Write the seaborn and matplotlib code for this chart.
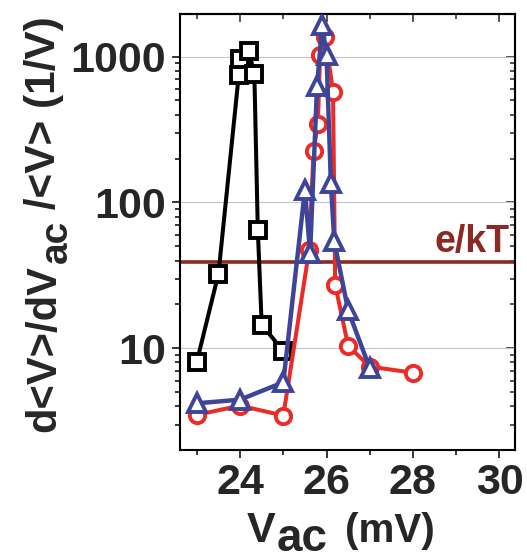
import matplotlib
matplotlib.use("Agg")
import matplotlib.pyplot as plt
import matplotlib.ticker as mticker
import seaborn as sns
import numpy as np

# ---- data ----
black_x = [23.0, 23.5, 23.97, 24.0, 24.2, 24.33, 24.41, 24.5, 25.0]
black_y = [8.1, 32.5, 750, 960, 1100, 760, 65, 14.5, 9.6]

red_x = [23.0, 24.0, 25.0, 25.6, 25.7, 25.8, 25.85, 25.97, 26.15, 26.2, 26.5, 27.0, 28.0]
red_y = [3.5, 4.05, 3.46, 47.5, 227, 346, 1020, 1370, 575, 27.3, 10.4, 7.5, 6.8]

blue_x = [23.0, 24.0, 25.0, 25.5, 25.62, 25.78, 25.9, 26.0, 26.1, 26.18, 26.5, 27.0]
blue_y = [4.2, 4.45, 5.85, 122, 45, 624, 1650, 1020, 136, 54, 18.2, 7.3]

e_kT = 39.0
e_kT_label = "e/kT"

x_ticks = [24, 26, 28, 30]
x_minor = [23, 25, 27, 29]
y_ticks = [10, 100, 1000]

# ---- style ----
sns.set_style("ticks")
plt.rcParams["font.family"] = ["Liberation Sans", "DejaVu Sans"]
plt.rcParams["font.weight"] = "bold"

C_BLACK = "#000000"
C_RED = "#ec2b27"
C_BLUE = "#3e4599"
C_LINE = "#8b2a22"

W, H = 527, 560
fig = plt.figure(figsize=(W / 100, H / 100), dpi=100)
L, R, T, B = 180, 515, 14, 450
ax = fig.add_axes([L / W, 1 - B / H, (R - L) / W, (B - T) / H])

ax.set_yscale("log")
ax.set_xlim(22.61, 30.36)
ax.set_ylim(2.01, 1958)

ax.axhline(e_kT, color=C_LINE, lw=2.6, zorder=1.5)

common = dict(linewidth=2.9, markersize=11, markeredgewidth=2.8,
              markerfacecolor="white", sort=False, estimator=None, legend=False)
sns.lineplot(x=black_x, y=black_y, ax=ax, color=C_BLACK, marker="s",
             markeredgecolor=C_BLACK, zorder=3, **common)
sns.lineplot(x=red_x, y=red_y, ax=ax, color=C_RED, marker="o",
             markeredgecolor=C_RED, zorder=4, **common)
common_b = dict(common)
common_b["markersize"] = 13
common_b["linewidth"] = 3.2
sns.lineplot(x=blue_x, y=blue_y, ax=ax, color=C_BLUE, marker="^",
             markeredgecolor=C_BLUE, zorder=5, **common_b)

ax.annotate(e_kT_label, xy=(0.985, e_kT), xycoords=("axes fraction", "data"),
            xytext=(0, 7), textcoords="offset points", ha="right", va="baseline",
            color=C_LINE, fontsize=27, fontweight="bold")

# grid
ax.yaxis.grid(True, which="major", color="#c4c4c4", linewidth=0.8)
ax.xaxis.grid(False)
ax.set_axisbelow(True)

for s in ax.spines.values():
    s.set_visible(True)
    s.set_linewidth(1.5)
    s.set_color("black")

# ticks
ax.set_xticks(x_ticks)
ax.set_xticks(x_minor, minor=True)
ax.xaxis.set_major_formatter(mticker.FuncFormatter(lambda v, p: f"{v:g}"))
ax.yaxis.set_major_locator(mticker.FixedLocator(y_ticks))
ax.yaxis.set_minor_locator(mticker.LogLocator(base=10, subs=np.arange(2, 10), numticks=20))
ax.yaxis.set_major_formatter(mticker.FuncFormatter(lambda v, p: f"{v:g}"))
ax.yaxis.set_minor_formatter(mticker.NullFormatter())

ax.tick_params(axis="both", which="major", direction="out", length=6, width=1.1,
               labelsize=31, pad=3, color="black")
ax.tick_params(axis="both", which="minor", direction="out", length=3.5, width=1.1,
               color="black")
ax.tick_params(axis="y", which="major", pad=4)
for lab in ax.get_xticklabels() + ax.get_yticklabels():
    lab.set_fontweight("bold")

# inward ticks on top and right
secx = ax.secondary_xaxis("top")
secx.set_xticks(x_ticks)
secx.set_xticks(x_minor, minor=True)
secx.tick_params(which="major", direction="in", length=5.5, width=1.1, labeltop=False)
secx.tick_params(which="minor", direction="in", length=3.5, width=1.1)
secx.spines["top"].set_linewidth(1.5)

secy = ax.secondary_yaxis("right")
secy.yaxis.set_major_locator(mticker.FixedLocator(y_ticks))
secy.yaxis.set_minor_locator(mticker.LogLocator(base=10, subs=np.arange(2, 10), numticks=20))
secy.yaxis.set_minor_formatter(mticker.NullFormatter())
secy.tick_params(which="major", direction="in", length=6.5, width=1.1, labelright=False)
secy.tick_params(which="minor", direction="in", length=3.5, width=1.1)
secy.spines["right"].set_linewidth(1.5)

# axis labels (with large subscript pieces as in the reference)
def fx(px):
    return px / W

def fy(py):
    return 1 - py / H

fig.text(fx(247), fy(541.7), "V", fontsize=31, fontweight="bold", ha="left", va="baseline")
fig.text(fx(277), fy(551), "ac", fontsize=33, fontweight="bold", ha="left", va="baseline")
fig.text(fx(345), fy(541.7), "(mV)", fontsize=29, fontweight="bold", ha="left", va="baseline")

fig.text(fx(55), fy(432), "d<V>/dV", fontsize=30, fontweight="bold", rotation=90,
         rotation_mode="anchor", ha="left", va="baseline")
fig.text(fx(67), fy(263), "ac", fontsize=28, fontweight="bold", rotation=90,
         rotation_mode="anchor", ha="left", va="baseline")
fig.text(fx(55), fy(221), " /<V> (1/V)", fontsize=30.5, fontweight="bold", rotation=90,
         rotation_mode="anchor", ha="left", va="baseline")

fig.savefig("out.png", dpi=100)
